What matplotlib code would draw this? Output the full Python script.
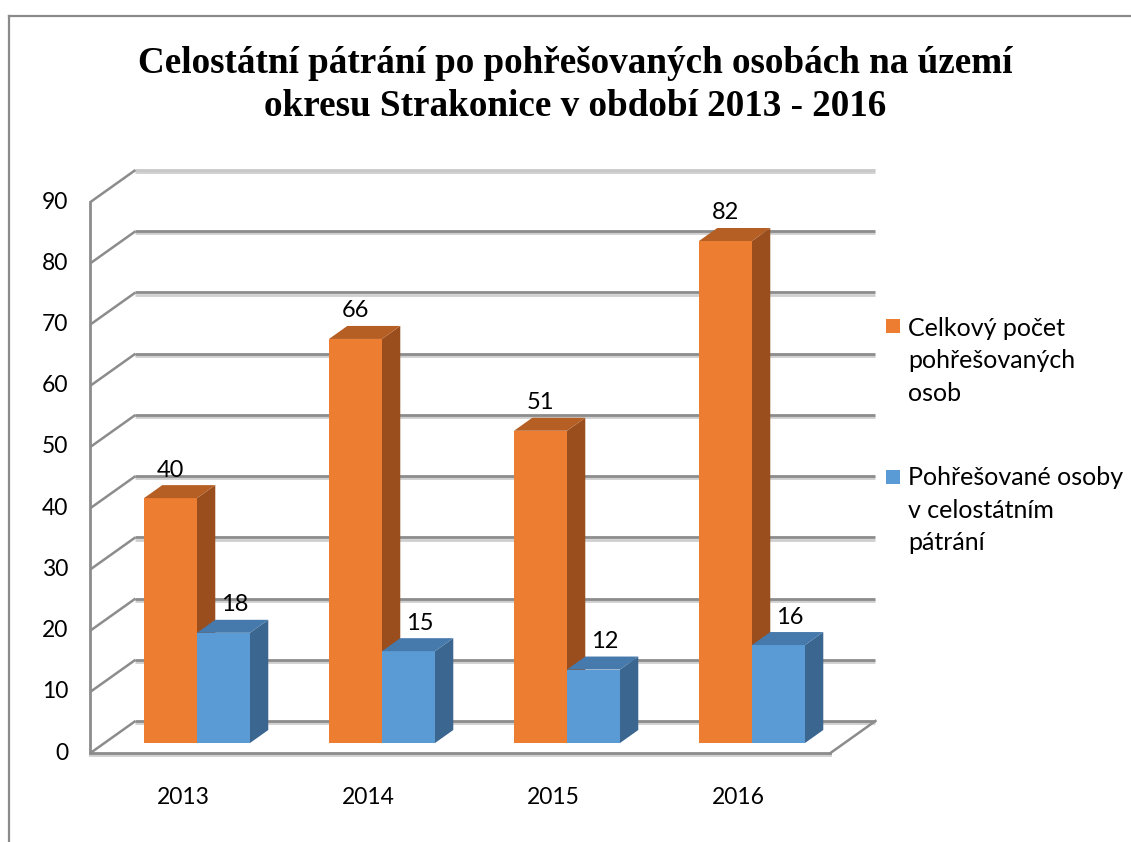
import matplotlib
matplotlib.use("Agg")
import matplotlib.pyplot as plt
from matplotlib.patches import Rectangle, Polygon
from matplotlib.lines import Line2D
import matplotlib.patheffects as pe

# ---------------- data ----------------
years = ["2013", "2014", "2015", "2016"]
total_missing = [40, 66, 51, 82]
national_search = [18, 15, 12, 16]
series_names = ["Celkový počet\npohřešovaných\nosob",
                "Pohřešované osoby\nv celostátním\npátrání"]
y_ticks = [0, 10, 20, 30, 40, 50, 60, 70, 80, 90]
title = "Celostátní pátrání po pohřešovaných osobách na území\nokresu Strakonice v období 2013 - 2016"

# ---------------- style / layout ----------------
W, H = 1131, 842
DPI = 100
PX_CAT = 185.0      # pixels per category
PX_VAL = 6.122      # pixels per value unit
ORIG_X = 197.0      # pixel x of first category centre (bar plane)
ORIG_Y = 743.0      # pixel y (from top) of value 0 (bar plane)
DEPTH_RATIO = 45.0 / 32.0
BAR_W = 53.0 / PX_CAT

front_cols = ["#ED7D31", "#5B9BD5"]
side_cols = ["#9A4E1E", "#3B6690"]
top_cols = ["#B65F24", "#4679AC"]
grid_col = "#8C8C8C"
text_font = ["Lato", "DejaVu Sans"]
label_shift = [0.0, 0.6]   # fraction of bar depth the value label is shifted right

fig = plt.figure(figsize=(W / DPI, H / DPI), dpi=DPI)
ax = fig.add_axes([0, 0, 1, 1])
ax.set_xlim(-ORIG_X / PX_CAT, (W - ORIG_X) / PX_CAT)
ax.set_ylim((ORIG_Y - H) / PX_VAL, ORIG_Y / PX_VAL)
ax.axis("off")


def off(d):
    """data offset for a depth of d pixels (positive = towards back)"""
    return (d * DEPTH_RATIO / PX_CAT, d / PX_VAL)


fx, fy = off(-10)   # front plane
bx, by = off(22)    # back wall
dx, dy = off(13)    # bar depth

n = len(years)
xl, xr = -0.5, n - 0.5

shadow = [pe.SimpleLineShadow(offset=(0, -1.6), shadow_color="#cfcfcf", alpha=1.0), pe.Normal()]

# gridlines: back wall + left wall diagonals
for v in y_ticks:
    col = grid_col if v < max(y_ticks) else "#c8c8c8"
    ax.add_line(Line2D([xl + bx, xr + bx], [v + by, v + by], color=col, lw=2.0,
                       solid_capstyle="butt", path_effects=shadow, zorder=1))
    ax.add_line(Line2D([xl + fx, xl + bx], [v + fy, v + by], color=grid_col, lw=1.8,
                       solid_capstyle="butt", zorder=1))

# front vertical axis
ax.add_line(Line2D([xl + fx, xl + fx], [fy, max(y_ticks) + fy], color=grid_col, lw=2.0, zorder=2))
# floor front edge and right edge
ax.add_line(Line2D([xl + fx, xr + fx], [fy, fy], color=grid_col, lw=2.0,
                   path_effects=shadow, zorder=2))
ax.add_line(Line2D([xr + fx, xr + bx], [fy, by], color=grid_col, lw=1.8, zorder=2))

# tick labels
for v in y_ticks:
    ax.annotate(str(v), (xl + fx, v + fy), xytext=(-22, 0), textcoords="offset pixels",
                ha="right", va="center", fontsize=16.5, family=text_font, color="#000000")

# category labels
for i, yr in enumerate(years):
    ax.annotate(yr, (i + fx, fy), xytext=(0, -44), textcoords="offset pixels",
                ha="center", va="center", fontsize=16.5, family=text_font, color="#000000")

# bars
series = [total_missing, national_search]
for i in range(n):
    for s, vals in enumerate(series):
        v = vals[i]
        x0 = i + (s - 1) * BAR_W
        x1 = x0 + BAR_W
        z = 5 + i * 3 + s
        ax.add_patch(Rectangle((x0, 0), BAR_W, v, facecolor=front_cols[s],
                               edgecolor="none", zorder=z))
        ax.add_patch(Polygon([(x1, 0), (x1 + dx, dy), (x1 + dx, v + dy), (x1, v)],
                             closed=True, facecolor=side_cols[s], edgecolor="none", zorder=z))
        ax.add_patch(Polygon([(x0, v), (x1, v), (x1 + dx, v + dy), (x0 + dx, v + dy)],
                             closed=True, facecolor=top_cols[s], edgecolor="none", zorder=z))
        ax.annotate(str(v), ((x0 + x1) / 2 + dx * label_shift[s], v + dy), xytext=(0, 15),
                    textcoords="offset pixels", ha="center", va="center",
                    fontsize=17, family=text_font, color="#000000", zorder=20)

# title
fig.text(575 / W, 1 - 85 / H, title, ha="center", va="center", fontsize=26.7,
         fontweight="bold", family=["Liberation Serif", "DejaVu Serif"],
         linespacing=1.3, color="#000000")

# legend (manual)
leg_y = [361, 510]
sq_y = [326.5, 477]
for s in range(2):
    fig.patches.append(Rectangle((886 / W, 1 - (sq_y[s] + 7) / H), 14 / W, 14 / H,
                                 transform=fig.transFigure, facecolor=front_cols[s],
                                 edgecolor="none"))
    fig.text(908 / W, 1 - leg_y[s] / H, series_names[s], ha="left", va="center",
             fontsize=18, family=text_font, linespacing=1.52, color="#000000")

# outer border
fig.add_artist(Line2D([9 / W, 1], [1 - 16 / H, 1 - 16 / H], transform=fig.transFigure,
                      color="#8a8a8a", lw=1.6))
fig.add_artist(Line2D([9 / W, 9 / W], [1 - 16 / H, 0], transform=fig.transFigure,
                      color="#8a8a8a", lw=1.6))

fig.savefig("out.png", dpi=DPI)
